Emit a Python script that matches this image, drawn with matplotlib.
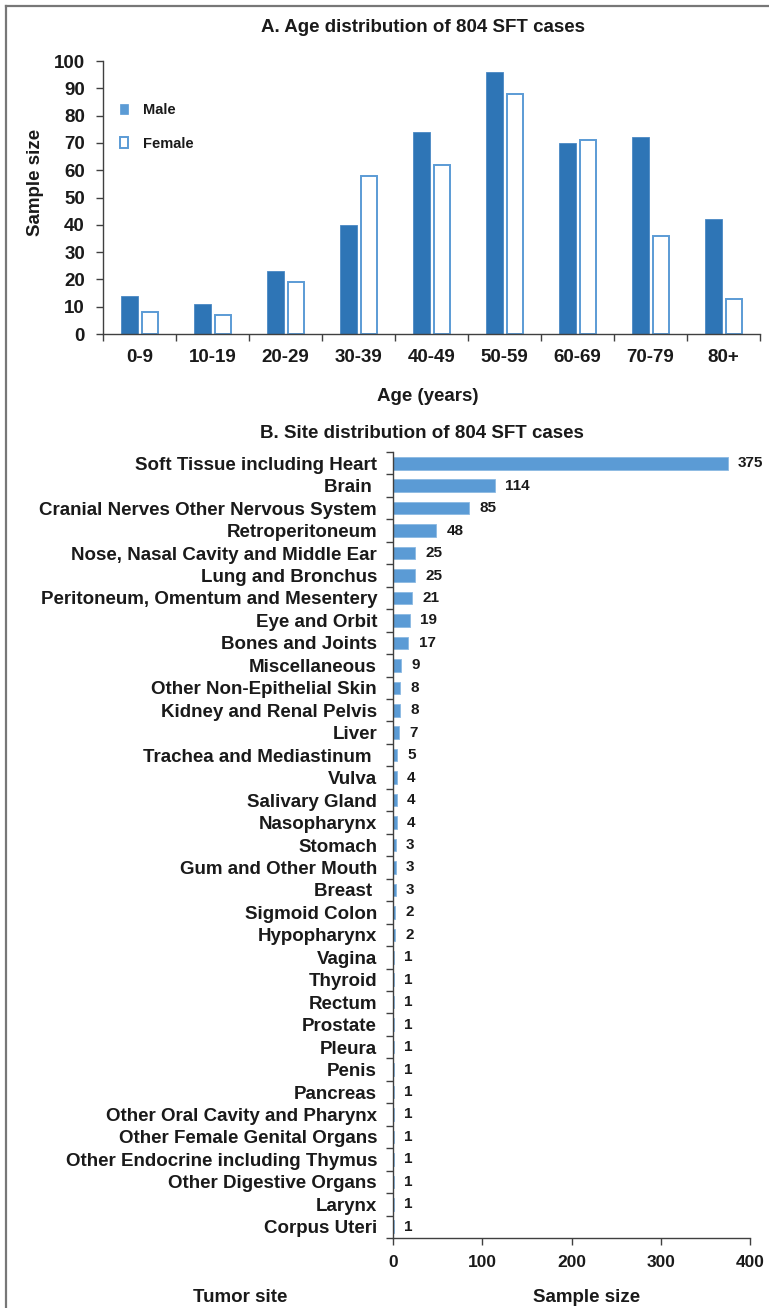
import matplotlib
matplotlib.use("Agg")
import matplotlib.pyplot as plt
from matplotlib.patches import Patch
from matplotlib.lines import Line2D
import numpy as np

plt.rcParams["font.family"] = ["Liberation Sans", "DejaVu Sans"]
plt.rcParams["font.weight"] = "bold"

# panel A data
age_groups = ["0-9", "10-19", "20-29", "30-39", "40-49", "50-59", "60-69", "70-79", "80+"]
male = [14, 11, 23, 40, 74, 96, 70, 72, 42]
female = [8, 7, 19, 58, 62, 88, 71, 36, 13]

# panel B data (top to bottom)
sites = ["Soft Tissue including Heart", "Brain ", "Cranial Nerves Other Nervous System",
         "Retroperitoneum", "Nose, Nasal Cavity and Middle Ear", "Lung and Bronchus",
         "Peritoneum, Omentum and Mesentery", "Eye and Orbit", "Bones and Joints",
         "Miscellaneous", "Other Non-Epithelial Skin", "Kidney and Renal Pelvis", "Liver",
         "Trachea and Mediastinum ", "Vulva", "Salivary Gland", "Nasopharynx", "Stomach",
         "Gum and Other Mouth", "Breast ", "Sigmoid Colon", "Hypopharynx", "Vagina",
         "Thyroid", "Rectum", "Prostate", "Pleura", "Penis", "Pancreas",
         "Other Oral Cavity and Pharynx", "Other Female Genital Organs",
         "Other Endocrine including Thymus", "Other Digestive Organs", "Larynx",
         "Corpus Uteri"]
site_counts = [375, 114, 85, 48, 25, 25, 21, 19, 17, 9, 8, 8, 7, 5, 4, 4, 4, 3, 3, 3,
               2, 2, 1, 1, 1, 1, 1, 1, 1, 1, 1, 1, 1, 1, 1]

W, H = 769, 1308
fig = plt.figure(figsize=(W / 100, H / 100), dpi=100)

dark_blue = "#2E75B6"
light_blue = "#5B9BD5"
axis_col = "#404040"
txt_col = "#1a1a1a"


def fx(px):
    return px / W


def fy(py):
    return 1 - py / H


# ---------- A ----------
ax1 = fig.add_axes([fx(103), fy(334), fx(760) - fx(103), fy(61) - fy(334)])
x = np.arange(len(age_groups))
ax1.bar(x - 0.137, male, width=0.227, color=dark_blue, edgecolor="#4a88c4", linewidth=0.6)
ax1.bar(x + 0.146, female, width=0.227, color="white", edgecolor=light_blue, linewidth=1.4)
ax1.set_xlim(-0.5, len(age_groups) - 0.5)
ax1.set_ylim(0, 100)
ax1.set_yticks(range(0, 101, 10))
ax1.set_xticks(x)
ax1.set_xticklabels(age_groups)
ax1.set_xticks(np.arange(-0.5, len(age_groups), 1), minor=True)
ax1.tick_params(axis="x", which="major", length=0, pad=11, labelsize=13.5, labelcolor=txt_col)
ax1.tick_params(axis="x", which="minor", length=5, width=1, color=axis_col, direction="out")
ax1.tick_params(axis="y", which="major", length=5, width=1, color=axis_col, pad=8,
                labelsize=13.5, labelcolor=txt_col)
for s in ["top", "right"]:
    ax1.spines[s].set_visible(False)
for s in ["left", "bottom"]:
    ax1.spines[s].set_color(axis_col)
    ax1.spines[s].set_linewidth(1)

handles = [Patch(facecolor=light_blue, edgecolor=light_blue, linewidth=0.5),
           Patch(facecolor="white", edgecolor=light_blue, linewidth=1.4)]
fig.legend(handles, ["Male", "Female"], loc="upper left",
           bbox_to_anchor=(fx(120), fy(103)), frameon=False, fontsize=10.5,
           handlelength=0.55, handleheight=0.75, handletextpad=1.0,
           labelspacing=1.35, borderpad=0, borderaxespad=0, labelcolor=txt_col)

fig.text(fx(423), fy(27), "A. Age distribution of 804 SFT cases", ha="center", va="center",
         fontsize=13.5, fontweight="bold", color=txt_col)
fig.text(fx(35), fy(182), "Sample size", rotation=90, ha="center", va="center",
         fontsize=13.5, fontweight="bold", color=txt_col)
fig.text(fx(428), fy(397), "Age (years)", ha="center", va="center",
         fontsize=13.5, fontweight="bold", color=txt_col)

# ---------- B ----------
ax2 = fig.add_axes([fx(393), fy(1238), fx(750) - fx(393), fy(452) - fy(1238)])
y = np.arange(len(sites))
ax2.barh(y, site_counts, height=0.56, color=light_blue, edgecolor="#8bb9e3", linewidth=0.6)
ax2.set_ylim(len(sites) - 0.5, -0.5)
ax2.set_xlim(0, 400)
ax2.set_xticks([0, 100, 200, 300, 400])
ax2.set_yticks(y)
ax2.set_yticklabels(sites)
ax2.set_yticks(np.arange(-0.5, len(sites), 1), minor=True)
ax2.tick_params(axis="y", which="major", length=0, pad=11.5, labelsize=13.5, labelcolor=txt_col)
ax2.tick_params(axis="y", which="minor", length=5, width=1, color=axis_col, direction="out")
ax2.tick_params(axis="x", which="major", length=5, width=1, color=axis_col, pad=7,
                labelsize=12.5, labelcolor=txt_col)
for s in ["top", "right"]:
    ax2.spines[s].set_visible(False)
for s in ["left", "bottom"]:
    ax2.spines[s].set_color(axis_col)
    ax2.spines[s].set_linewidth(1)

for yi, v in zip(y, site_counts):
    ax2.annotate(str(v), (v, yi), xytext=(7.5, 0), textcoords="offset points",
                 ha="left", va="center", fontsize=11, fontweight="bold", color=txt_col)

fig.text(fx(422), fy(433), "B. Site distribution of 804 SFT cases", ha="center", va="center",
         fontsize=13.5, fontweight="bold", color=txt_col)
fig.text(fx(240), fy(1297), "Tumor site", ha="center", va="center",
         fontsize=13.5, fontweight="bold", color=txt_col)
fig.text(fx(587), fy(1297), "Sample size", ha="center", va="center",
         fontsize=13.5, fontweight="bold", color=txt_col)

# outer frame (top and left edges only)
fig.add_artist(Line2D([fx(6), 1], [fy(6), fy(6)], transform=fig.transFigure,
                      color="#777777", linewidth=1.6))
fig.add_artist(Line2D([fx(6), fx(6)], [fy(6), 0], transform=fig.transFigure,
                      color="#777777", linewidth=1.6))

fig.savefig("out.png", dpi=100)
